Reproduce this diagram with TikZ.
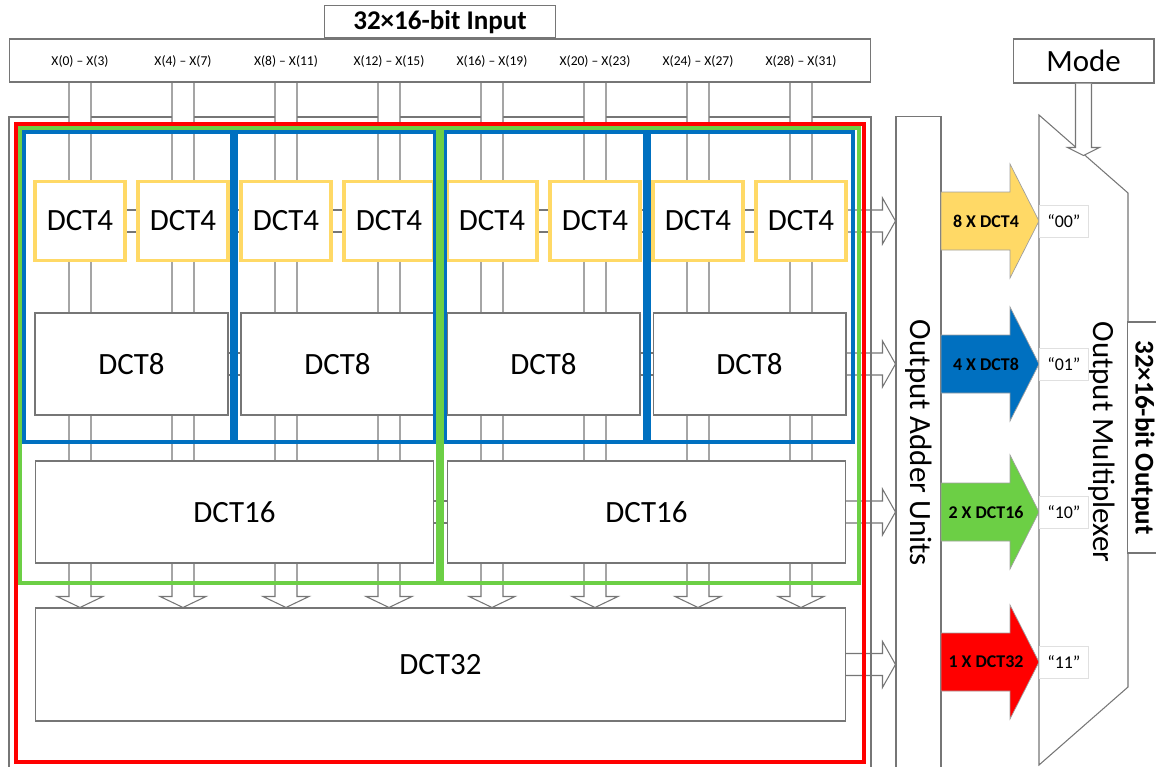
\documentclass[tikz,border=0pt]{standalone}
\usepackage{fontspec}
\setmainfont{Carlito}
\usetikzlibrary{positioning, calc, backgrounds}

\definecolor{dctyellow}{HTML}{FFD966}
\definecolor{dctblue}{HTML}{0070C0}
\definecolor{dctgreen}{HTML}{6CCF45}
\definecolor{dctred}{HTML}{FF0000}
\definecolor{wire}{HTML}{767676}

\begin{document}
\begin{tikzpicture}[
    x=0.02cm, y=-0.02cm,
    font=\fontsize{17.6}{20}\selectfont,
    box/.style={draw=wire, fill=white, line width=0.6pt, inner sep=2pt, align=center},
    dctfour/.style={box, draw=dctyellow, line width=1.9pt, minimum width=1.8cm, minimum height=1.59cm},
    dcteight/.style={box, minimum width=3.86cm, minimum height=2.04cm},
    dctsixteen/.style={box, minimum width=7.98cm, minimum height=2.04cm},
    pipe/.style={draw=wire, fill=white, line width=0.6pt},
    grp/.style={line width=2.1pt},
    inlabel/.style={font=\fontsize{7.7}{9}\selectfont, inner sep=0pt},
    heading/.style={font=\fontsize{15.4}{18}\selectfont\bfseries},
    bigarrow/.style={draw=wire!70, line width=0.4pt},
    cnttext/.style={font=\fontsize{10.2}{12}\selectfont\bfseries, inner sep=0pt},
    codebox/.style={draw=black!12, fill=white, line width=0.4pt, font=\fontsize{10.2}{12}\selectfont, minimum width=0.98cm, minimum height=0.64cm, inner sep=0pt}
]
    \useasboundingbox (0,0) rectangle (1156,767);

    % input side
    \node (inbar) [box, minimum width=17.24cm, minimum height=0.86cm] at (440,60.5) {};
    \node (title) [box, heading, minimum width=4.62cm, minimum height=0.64cm, above=0pt of inbar] {32×16-bit Input};
    \foreach \i [evaluate=\i as \a using int(4*\i), evaluate=\i as \b using int(4*\i+3)] in {0,...,7}
        \node (x\i) [inlabel] at (80+103*\i,61) {X(\a) – X(\b)};

    % transform blocks
    \foreach \i in {0,...,7}
        \node (a\i) [dctfour] at (80+103*\i,221) {DCT4};
    \foreach \i in {0,...,3}
        \node (b\i) [dcteight] at (131.5+206*\i,364) {DCT8};
    \foreach \i in {0,1}
        \node (c\i) [dctsixteen] at (234.5+412*\i,512) {DCT16};
    \node (d32) [box, minimum width=16.22cm, minimum height=2.26cm] at (440.5,664.5) {DCT32};

    % adder, multiplexer and mode
    \node (adder) [box, rotate=-90, minimum width=13.08cm, minimum height=0.9cm] at (918.5,443) {Output Adder Units};
    \draw[box] (1039,115) -- (1128,193) -- (1128,687) -- (1039,765) -- cycle;
    \node (mux) [rotate=-90] at (1102,442) {Output Multiplexer};
    \node (mode) [box, minimum width=2.82cm, minimum height=0.88cm] at (1083.5,61) {Mode};
    \draw[pipe] ($(mode.south)+(-8,0)$) -- ++(0,64) -- ++(-8,0) -- ($(mode.south)+(0,72)$) -- ++(16,-8) -- ++(-8,0) -- ($(mode.south)+(8,0)$);
    \node (outp) [box, heading, rotate=-90, minimum width=4.62cm, minimum height=0.6cm] at (1143,437.5) {32×16-bit Output};

    \foreach \y/\col/\txt/\code [count=\k] in {221/dctyellow/8 X DCT4/00, 364/dctblue/4 X DCT8/01, 512/dctgreen/2 X DCT16/10, 662/dctred/1 X DCT32/11} {
        \draw[bigarrow, fill=\col] (941,\y-29) -- (1010,\y-29) -- (1010,\y-57) -- (1039,\y) -- (1010,\y+57) -- (1010,\y+29) -- (941,\y+29) -- cycle;
        \node (mult\k) [cnttext] at (986,\y) {\txt};
        \coordinate (tip\k) at (1039,\y);
        \node (sel\k) [codebox, right=0pt of tip\k] {“\code”};
    }

    % group frames
    \foreach \l/\r in {24/232, 236/435, 445/645, 649/853}
        \draw[grp, draw=dctblue, line width=2.3pt] (\l,132) rectangle (\r,442);
    \foreach \l/\r in {20/438, 442/859}
        \draw[grp, draw=dctgreen] (\l,128) rectangle (\r,583);
    \draw[grp, draw=dctred] (16,124) rectangle (864,762);

    \begin{scope}[on background layer]
        % outputs into the adder
        \foreach \n in {a7, b3, c1, d32}
            \draw[pipe] ($(\n.center)+(0,-11)$) -- ($(\n.east -| adder.south)+(-13,-11)$) -- ++(0,-12) -- (\n.east -| adder.south) -- ($(\n.east -| adder.south)+(-13,23)$) -- ++(0,-12) -- ($(\n.center)+(0,11)$);
        \draw[draw=wire, line width=0.6pt] (9,117) rectangle (871,790);
        % input buses
        \foreach \i in {0,...,7}
            \draw[pipe] ($(x\i |- inbar.south)+(-11,0)$) -- ($(x\i |- d32.north)+(-11,-11)$) -- ++(-12,0) -- (x\i |- d32.north) -- ($(x\i |- d32.north)+(23,-11)$) -- ++(-12,0) -- ($(x\i |- inbar.south)+(11,0)$);
        % links between neighbours
        \foreach \i [evaluate=\i as \j using int(\i+1)] in {0,...,6}
            \draw[pipe] ($(a\i.center)+(0,-11)$) rectangle ($(a\j.center)+(0,11)$);
        \foreach \i [evaluate=\i as \j using int(\i+1)] in {0,1,2}
            \draw[pipe] ($(b\i.center)+(0,-11)$) rectangle ($(b\j.center)+(0,11)$);
        \draw[pipe] ($(c0.center)+(0,-11)$) rectangle ($(c1.center)+(0,11)$);
    \end{scope}
\end{tikzpicture}
\end{document}
